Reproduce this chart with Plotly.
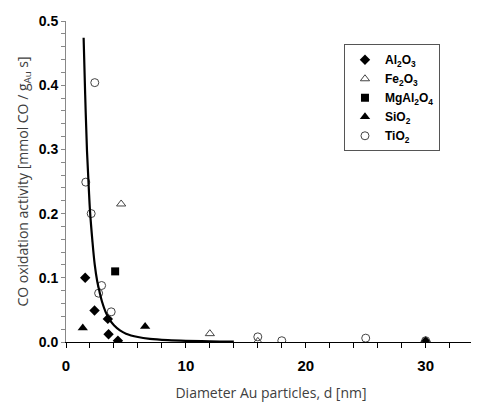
import plotly.graph_objects as go

# Data
al2o3_d = [1.6, 2.38, 3.49, 3.55, 4.33, 30.0]
al2o3_act = [0.100, 0.049, 0.036, 0.012, 0.002, 0.001]

fe2o3_d = [4.6, 12.0, 16.0]
fe2o3_act = [0.215, 0.013, 0.001]

mgal2o4_d = [4.1]
mgal2o4_act = [0.110]

sio2_d = [1.4, 6.6, 30.0]
sio2_act = [0.022, 0.024, 0.001]

tio2_d = [2.4, 1.65, 2.1, 2.97, 2.72, 3.77, 16.0, 18.0, 25.0, 30.0]
tio2_act = [0.404, 0.249, 0.200, 0.088, 0.076, 0.047, 0.008, 0.002, 0.006, 0.002]

fit_d = [1.47, 1.6, 1.75, 1.9, 2.0, 2.2, 2.4, 2.6, 2.8, 3.0, 3.3, 3.6, 4.0, 4.5,
         5.0, 6.0, 7.0, 8.5, 10.0, 12.0, 14.0]
fit_act = [0.474, 0.385, 0.298, 0.240, 0.205, 0.158, 0.120, 0.095, 0.078, 0.063,
           0.047, 0.036, 0.026, 0.018, 0.013, 0.0078, 0.0050, 0.0030, 0.0019,
           0.0010, 0.0006]

x_tick_vals = [0, 10, 20, 30]

fig = go.Figure()

fig.add_trace(go.Scatter(x=al2o3_d, y=al2o3_act, mode="markers", name="Al<sub>2</sub>O<sub>3</sub>",
                         marker=dict(symbol="diamond", size=8, color="black")))
fig.add_trace(go.Scatter(x=fe2o3_d, y=fe2o3_act, mode="markers", name="Fe<sub>2</sub>O<sub>3</sub>",
                         marker=dict(symbol="triangle-up-open", size=8, color="#444444", line=dict(width=1))))
fig.add_trace(go.Scatter(x=mgal2o4_d, y=mgal2o4_act, mode="markers", name="MgAl<sub>2</sub>O<sub>4</sub>",
                         marker=dict(symbol="square", size=8, color="black")))
fig.add_trace(go.Scatter(x=sio2_d, y=sio2_act, mode="markers", name="SiO<sub>2</sub>",
                         marker=dict(symbol="triangle-up", size=9, color="black")))
fig.add_trace(go.Scatter(x=tio2_d, y=tio2_act, mode="markers", name="TiO<sub>2</sub>",
                         marker=dict(symbol="circle-open", size=8, color="#444444", line=dict(width=1))))

fig.add_trace(go.Scatter(x=fit_d, y=fit_act, mode="lines", line=dict(color="black", width=2.2, shape="spline"),
                         showlegend=False, hoverinfo="skip"))

fig.update_layout(
    width=471, height=394,
    margin=dict(l=58, r=3, t=13, b=60, autoexpand=False),
    plot_bgcolor="white", paper_bgcolor="white",
    font=dict(family="Liberation Sans, Arial, sans-serif", color="black"),
    legend=dict(
        x=0.678, y=0.9275, xanchor="left", yanchor="top",
        bordercolor="#555555", borderwidth=1, bgcolor="white",
        font=dict(size=12, family="Liberation Sans, Arial, sans-serif", color="black", weight="bold"),
        itemwidth=30,
    ),
)

fig.update_xaxes(
    range=[0, 34.2], automargin=False,
    tickvals=x_tick_vals, ticktext=[str(v) for v in x_tick_vals],
    ticks="outside", ticklen=5, tickcolor="black",
    minor=dict(dtick=2, ticks="outside", ticklen=5, tickcolor="black"),
    showline=True, linecolor="black", linewidth=1,
    showgrid=False, zeroline=False,
    tickfont=dict(size=15, family="Liberation Sans, Arial, sans-serif", weight="bold"),
    ticklabelstandoff=5,
    title=dict(text="Diameter Au particles, d [nm]",
               font=dict(size=14, family="Open Sans, sans-serif", color="#404040"), standoff=15),
)

fig.update_yaxes(
    range=[0, 0.5], automargin=False,
    dtick=0.1, tickformat=".1f",
    ticks="outside", ticklen=4, tickcolor="#888888",
    minor=dict(dtick=0.02, ticks="outside", ticklen=4, tickcolor="#888888"),
    showline=True, linecolor="#888888", linewidth=1,
    showgrid=False, zeroline=False,
    tickfont=dict(size=14, family="Liberation Sans, Arial, sans-serif", weight="bold"),
    ticklabelstandoff=0,
    title=dict(text="CO oxidation activity [mmol CO / g<sub>Au</sub> s]",
               font=dict(size=14, family="Open Sans, sans-serif", color="#404040"), standoff=6),
)

fig.write_html("out.html")
